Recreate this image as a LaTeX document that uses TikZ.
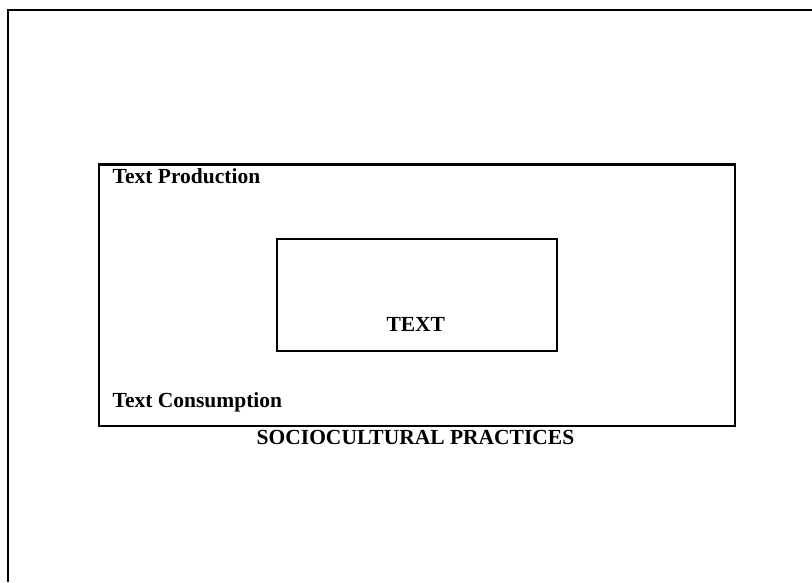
\documentclass[tikz,border=0pt]{standalone}
\usepackage{fontspec}
\setmainfont{Liberation Serif}
\begin{document}
\begin{tikzpicture}[x=1pt,y=-1pt,
  boxline/.style={draw=black,line width=2.2pt},
  lbl/.style={font=\fontsize{21.5}{24}\selectfont\bfseries,inner sep=0pt}]
\useasboundingbox (0,0) rectangle (812,582);
\draw[boxline,line width=2pt] (7.5,582) -- (7.5,9.5) -- (812,9.5);
\node[boxline,minimum width=636pt,minimum height=261.5pt,anchor=north west,inner sep=0pt] (mid) at (97.5,163.3) {};
\node[boxline,minimum width=280pt,minimum height=111.5pt,anchor=north west,inner sep=0pt] (inner) at (276,238) {};
\node[lbl,anchor=base west] (prod) at (112.5,183.3) {Text Production};
\node[lbl,anchor=base west] (cons) at (112.5,407) {Text Consumption};
\node[lbl,anchor=base] (txt) at (415.8,331.7) {TEXT};
\node[lbl,anchor=base] (socio) at (415.5,444.5) {SOCIOCULTURAL PRACTICES};
\end{tikzpicture}
\end{document}
